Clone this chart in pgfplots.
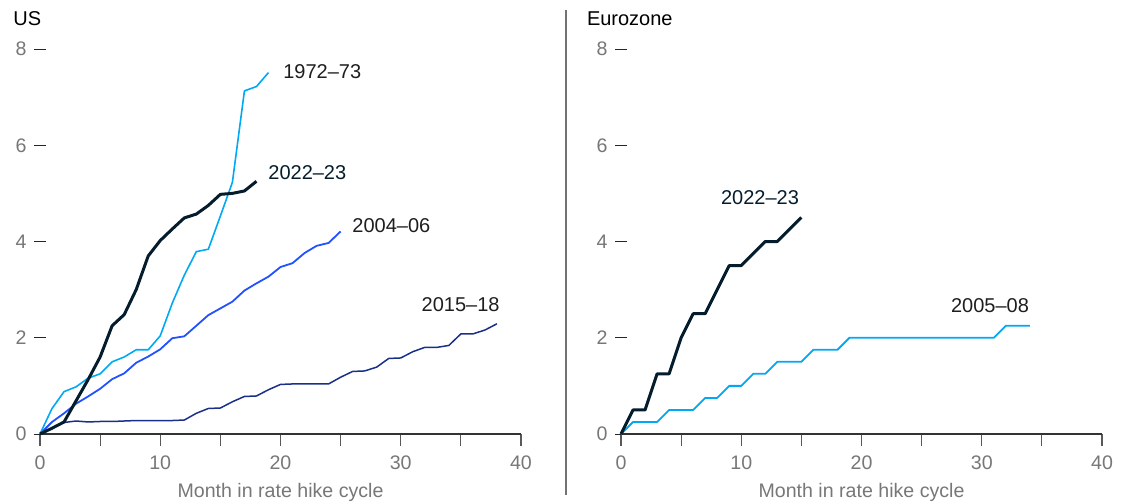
\documentclass[border=0pt]{standalone}
\usepackage{fontspec}
\setmainfont{Liberation Sans}
\usepackage{pgfplots}
\pgfplotsset{compat=1.18}

\definecolor{navy}{HTML}{051C2C}
\definecolor{cyanl}{HTML}{00A9F4}
\definecolor{bluem}{HTML}{2251FF}
\definecolor{blued}{HTML}{1A2F8A}
\definecolor{tickgray}{HTML}{777777}
\definecolor{labeltext}{HTML}{1E1E1E}

\newcommand{\tkfont}{\fontsize{9.8bp}{11bp}\selectfont}
\tikzset{lbl/.style={font=\fontsize{10bp}{12bp}\selectfont, text=labeltext, inner sep=0pt}}

\pgfplotsset{
  panel/.style={
    scale only axis, width=240.5bp, height=192.5bp,
    xmin=0, xmax=40, ymin=0, ymax=8,
    axis x line*=bottom, axis y line*=left,
    y axis line style={draw=none},
    x axis line style={draw=black!80, line width=0.6bp},
    xtick={0,5,...,40}, xticklabels={0,,10,,20,,30,,40},
    ytick={0,2,4,6,8},
    tick align=outside, major tick length=6bp,
    xtick style={draw=black!65, line width=0.6bp},
    ytick style={draw=black!85, line width=0.5bp, xshift=3bp},
    tick label style={font=\tkfont, text=tickgray},
    xticklabel style={anchor=base, yshift=-11.5bp},
    yticklabel style={anchor=east, inner sep=0pt, xshift=-0.6bp},
    /pgf/number format/assume math mode=true,
    xlabel={Month in rate hike cycle},
    xlabel style={font=\tkfont, text=tickgray, at={(axis description cs:0.5,0)}, anchor=base, yshift=-31.5bp},
    clip=false, anchor=south west,
    every axis plot/.append style={mark=none, line join=round},
  }
}

\begin{document}
\begin{tikzpicture}
\path[use as bounding box] (0,0) rectangle (564.5bp,251bp);

% separator and panel titles
\draw[black!55, line width=0.6bp] (283bp,246bp) -- (283bp,3.5bp);
\node[anchor=base west, inner sep=0pt, font=\fontsize{10bp}{12bp}\selectfont] at (6.5bp,238bp) {US};
\node[anchor=base west, inner sep=0pt, font=\fontsize{10bp}{12bp}\selectfont] at (293.3bp,238bp) {Eurozone};

%% US
\begin{axis}[panel, at={(20bp,34bp)}]
% 2015-18
\addplot[color=blued, line width=0.75bp] coordinates {
  (0,0)(1,0.12)(2,0.24)(3,0.27)(4,0.25)(5,0.26)(6,0.26)(7,0.27)(8,0.28)(9,0.28)
  (10,0.28)(11,0.28)(12,0.29)(13,0.43)(14,0.53)(15,0.54)(16,0.67)(17,0.78)(18,0.79)
  (19,0.92)(20,1.03)(21,1.04)(22,1.04)(23,1.04)(24,1.04)(25,1.18)(26,1.3)(27,1.31)
  (28,1.39)(29,1.57)(30,1.58)(31,1.71)(32,1.8)(33,1.8)(34,1.84)(35,2.08)(36,2.08)
  (37,2.16)(38,2.29)
};
% 2004-06
\addplot[color=bluem, line width=0.9bp] coordinates {
  (0,0)(1,0.25)(2,0.43)(3,0.63)(4,0.78)(5,0.94)(6,1.14)(7,1.26)(8,1.48)(9,1.61)
  (10,1.76)(11,1.99)(12,2.03)(13,2.25)(14,2.47)(15,2.61)(16,2.75)(17,2.98)(18,3.13)
  (19,3.27)(20,3.47)(21,3.55)(22,3.76)(23,3.91)(24,3.97)(25,4.21)
};
% 1972-73
\addplot[color=cyanl, line width=0.8bp] coordinates {
  (0,0)(1,0.53)(2,0.88)(3,0.98)(4,1.16)(5,1.25)(6,1.5)(7,1.6)(8,1.75)(9,1.75)
  (10,2.04)(11,2.72)(12,3.3)(13,3.79)(14,3.84)(15,4.53)(16,5.23)(17,7.13)(18,7.22)(19,7.51)
};
% 2022-23
\addplot[color=navy, line width=1.5bp] coordinates {
  (0,0)(1,0.12)(2,0.25)(3,0.69)(4,1.13)(5,1.6)(6,2.25)(7,2.48)(8,3.0)(9,3.7)
  (10,4.02)(11,4.26)(12,4.49)(13,4.57)(14,4.75)(15,4.98)(16,5.0)(17,5.05)(18,5.25)
};
\node[lbl, anchor=west] at (axis cs:20.2,7.53) {1972–73};
\node[lbl, anchor=west, text=navy] at (axis cs:18.96,5.43) {2022–23};
\node[lbl, anchor=west] at (axis cs:25.95,4.32) {2004–06};
\node[lbl, anchor=east] at (axis cs:38.25,2.68) {2015–18};
\end{axis}

%% Eurozone
\begin{axis}[panel, at={(310.5bp,34bp)}]
% 2005-08
\addplot[color=cyanl, line width=0.9bp] coordinates {
  (0,0)(1,0.25)(2,0.25)(3,0.25)(4,0.5)(5,0.5)(6,0.5)(7,0.75)(8,0.75)(9,1.0)
  (10,1.0)(11,1.25)(12,1.25)(13,1.5)(14,1.5)(15,1.5)(16,1.75)(17,1.75)(18,1.75)
  (19,2.0)(20,2.0)(21,2.0)(22,2.0)(23,2.0)(24,2.0)(25,2.0)(26,2.0)(27,2.0)(28,2.0)
  (29,2.0)(30,2.0)(31,2.0)(32,2.25)(33,2.25)(34,2.25)
};
% 2022-23
\addplot[color=navy, line width=1.5bp] coordinates {
  (0,0)(1,0.5)(2,0.5)(3,1.25)(4,1.25)(5,2.0)(6,2.5)(7,2.5)(8,3.0)(9,3.5)
  (10,3.5)(11,3.75)(12,4.0)(13,4.0)(14,4.25)(15,4.5)
};
\node[lbl, anchor=center, text=navy] at (axis cs:11.56,4.91) {2022–23};
\node[lbl, anchor=center] at (axis cs:30.69,2.66) {2005–08};
\end{axis}
\end{tikzpicture}
\end{document}
